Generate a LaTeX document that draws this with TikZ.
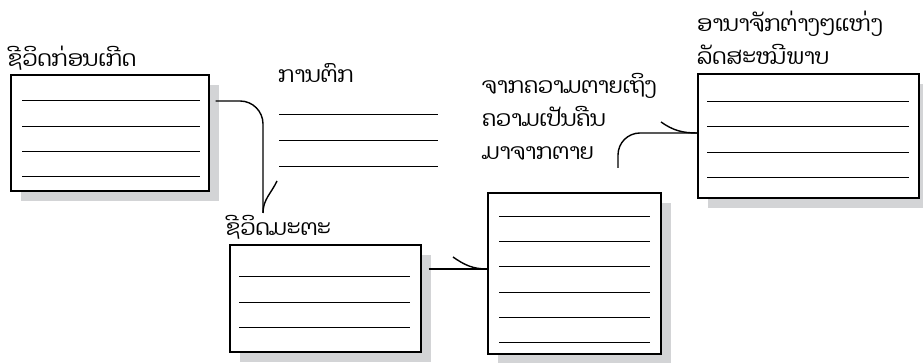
\documentclass[tikz,border=0pt]{standalone}
\usepackage{fontspec}
\usepackage{xcolor}
\usetikzlibrary{positioning, shadows}
\newfontfamily\laofont[Script=Lao]{Dhyana}
\definecolor{shade}{RGB}{211,212,214}

\begin{document}
\begin{tikzpicture}[x=1pt, y=1pt]
    \tikzstyle{card} = [rectangle, draw=black, line width=1.6pt, fill=white, anchor=north west, drop shadow={shadow xshift=10pt, shadow yshift=-10pt, fill=shade, opacity=1}]
    \tikzstyle{tag} = [anchor=base west, inner sep=0pt, align=left, font=\laofont\fontsize{22}{33}\selectfont]
    \tikzstyle{rule} = [line width=1pt]
    \tikzstyle{link} = [line width=1.4pt]

    \useasboundingbox (0,0) rectangle (923,363);

    % boxes
    \node (before) [card, minimum width=198pt, minimum height=116pt] at (10,289) {};
    \node (mortal) [card, minimum width=191pt, minimum height=107pt] at (229,119) {};
    \node (death) [card, minimum width=173pt, minimum height=161pt] at (487,171) {};
    \node (glory) [card, minimum width=221pt, minimum height=124pt] at (697,290) {};

    % labels (base = last line)
    \node (beforetag) [tag] at (8,296) {ຊີວິດກ່ອນເກີດ};
    \node (falltag) [tag] at (278,280) {ການຕົກ};
    \node (mortaltag) [tag] at (226,127) {ຊີວິດມະຕະ};
    \node (risetag) [tag] at (482,203) {ຈາກຄວາມຕາຍເຖິງ\\ຄວາມເປັນຄືນ\\ມາຈາກຕາຍ};
    \node (glorytag) [tag] at (697,298) {ອານາຈັກຕ່າງໆແຫ່ງ\\ລັດສະໝີພາບ};

    % writing lines
    \foreach \d in {27,53,78,103}
        \draw [rule] ([xshift=12pt,yshift=-\d pt]before.north west) -- ([xshift=-10pt,yshift=-\d pt]before.north east);
    \foreach \y in {248,222,196}
        \draw [rule] (279,\y) -- (438,\y);
    \foreach \d in {33,59,84}
        \draw [rule] ([xshift=10pt,yshift=-\d pt]mortal.north west) -- ([xshift=-12pt,yshift=-\d pt]mortal.north east);
    \foreach \d in {25,50,75,101,126,151}
        \draw [rule] ([xshift=12pt,yshift=-\d pt]death.north west) -- ([xshift=-12pt,yshift=-\d pt]death.north east);
    \foreach \d in {29,54,80,105}
        \draw [rule] ([xshift=10pt,yshift=-\d pt]glory.north west) -- ([xshift=-11pt,yshift=-\d pt]glory.north east);

    % connectors
    \coordinate (fallend) at (263,150);
    \coordinate (deathtip) at ([yshift=-77pt]death.north west);
    \coordinate (riseend) at (618,195);
    \coordinate (glorytip) at ([yshift=-60pt]glory.north west);

    \draw [link, rounded corners=23pt] ([xshift=6pt,yshift=-27pt]before.north east) -| (fallend);
    \draw [link] (fallend) to[out=90, in=245] ++(14,32);
    \draw [link] ([xshift=7pt,yshift=-25pt]mortal.north east) -- (deathtip);
    \draw [link] (deathtip) to[out=180, in=-35] ++(-34,12);
    \draw [link, rounded corners=22pt] (riseend) |- (glorytip);
    \draw [link] (glorytip) to[out=180, in=-35] ++(-36,11);
\end{tikzpicture}
\end{document}
